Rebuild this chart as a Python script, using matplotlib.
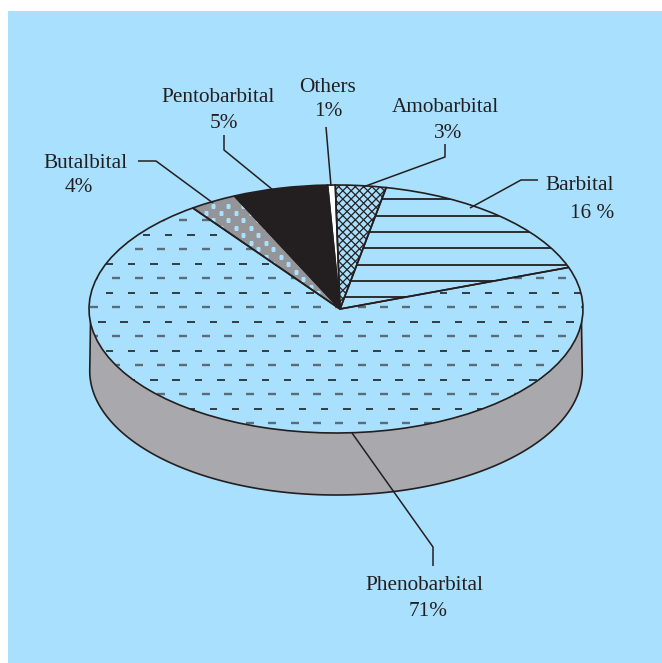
#!/usr/bin/env python3
"""Barbiturate share pie, drawn as a thick tilted disc with custom fill patterns."""

import numpy as np
import matplotlib
matplotlib.use('Agg')
import matplotlib.pyplot as plt
import matplotlib.patches as patches
from matplotlib.collections import LineCollection
from matplotlib.transforms import Affine2D

# Slice shares as measured on the rim of the picture, counterclockwise from Barbital
names = ['Barbital', 'Amobarbital', 'Others', 'Pentobarbital', 'Butalbital', 'Phenobarbital']
drawn_share = [16.3, 3.3, 0.5, 6.2, 3.1, 70.6]
# Percentages as printed next to each slice
printed = ['16 %', '3%', '1%', '5%', '4%', '71%']

BLUE = '#a9e0fd'
INK = '#231f20'
W, H = 662, 663

# Disc geometry in pixels
cx, cy, rx, ry = 336, 309, 247, 124
depth = 62
apex = (340, 309)
start_angle = 19.6

plt.rcParams['font.family'] = ['Liberation Serif', 'DejaVu Serif']

fig = plt.figure(figsize=(W / 100, H / 100), dpi=100, facecolor='white')
ax = fig.add_axes([0, 0, 1, 1])

ax.add_patch(patches.Rectangle((8, 11), W - 8, H - 11, fc=BLUE, ec='none', zorder=0))

# Disc side
t = np.radians(np.linspace(180, 360, 200))
side_x = cx + rx * np.cos(t)
side_y = cy + depth - ry * np.sin(t)
side_xy = np.column_stack([
    np.r_[side_x, cx + rx - 1, cx - rx + 1],
    np.r_[side_y, cy, cy],
])
side_xy[:, 0] = cx + (side_xy[:, 0] - cx) * 0.997
ax.add_patch(patches.Polygon(side_xy, closed=True, fc='#a9a9ad', ec=INK, lw=1.2, zorder=1))

# Top of the disc: pie in unit coordinates, squashed to the ellipse by a transform
face = [BLUE, BLUE, 'white', INK, '#939598', BLUE]
wedges, _ = ax.pie(drawn_share, startangle=start_angle, counterclock=True, colors=face,
                   wedgeprops={'edgecolor': 'none', 'linewidth': 0, 'zorder': 2})
to_px = Affine2D().scale(rx, -ry).translate(cx, cy) + ax.transData
for w in wedges:
    w.set_transform(to_px)
    # apex of the slices sits a little right of the ellipse centre
    path = w.get_path()
    verts = path.vertices.copy()
    verts[-2:] = [(apex[0] - cx) / rx, (cy - apex[1]) / ry]
    path.vertices = verts
by_name = dict(zip(names, wedges))


def add_segments(segs, wedge, color, lw):
    coll = LineCollection(segs, colors=color, linewidths=lw, zorder=3, capstyle='butt')
    ax.add_collection(coll)
    coll.set_clip_path(wedge)


# Phenobarbital: staggered dashes, rows alternate in weight
even, odd = [], []
phases = [15.5, 8, 15.5]
for i, y in enumerate(np.arange(205.5, 430, 14.5)):
    if i % 2:
        for x in np.arange(90 - 22.3, 600, 22.3):
            even.append([(x, y), (x + 8, y)])
    else:
        ph = phases[(i // 2) % 3]
        for x in np.arange(90 - 22.3 + ph, 600, 22.3):
            odd.append([(x, y), (x + 7.5, y)])
add_segments(even, by_name['Phenobarbital'], '#5b6b78', 1.7)
add_segments(odd, by_name['Phenobarbital'], '#111111', 1.1)

# Barbital: horizontal rules
add_segments([[(330, y), (590, y)] for y in np.arange(199.3, 300, 16.3)],
             by_name['Barbital'], INK, 1.3)

# Amobarbital: cross hatch
cross = []
for c in np.arange(-400, 1000, 8.3):
    cross.append([(c, 170), (c + 160, 330)])
    cross.append([(c, 170), (c - 160, 330)])
add_segments(cross, by_name['Amobarbital'], INK, 0.9)

# Butalbital: pale square dots on gray
for j, y in enumerate(np.arange(206, 300, 7.33)):
    xs = np.arange(213 - (7.5 if j % 2 else 0), 340, 15)
    dots, = ax.plot(xs, np.full_like(xs, y), ls='none', marker='s', ms=2.6, mfc=BLUE, mec='none', zorder=3)
    dots.set_clip_path(by_name['Butalbital'])

# Outlines above the patterns
for w in wedges:
    outline = patches.PathPatch(w.get_path(), transform=to_px, fc='none', ec=INK, lw=1.2, zorder=4)
    ax.add_patch(outline)

# Leader lines
leaders = [
    [(138, 161), (156, 161), (213, 203)],
    [(224, 135), (224, 150), (273, 190)],
    [(326, 127), (331, 186)],
    [(445, 144), (445, 157), (363, 187)],
    [(538, 180), (521, 180), (470, 208)],
    [(433, 566), (433, 547), (352, 433)],
]
for pts in leaders:
    xs, ys = zip(*pts)
    ax.plot(xs, ys, color=INK, lw=1.1, zorder=5, solid_capstyle='butt')

# Labels: name position then percent position, same order as names
name_xy = [(580, 185), (445, 107), (328, 87), (218, 97), (85, 163), (424.5, 585)]
pct_xy = [(592, 213), (448, 134), (328, 112), (224, 123), (79, 187), (428, 611)]
for name, pct, a, b in zip(names, printed, name_xy, pct_xy):
    ax.text(a[0], a[1], name, ha='center', va='center', fontsize=15.3, color=INK, zorder=6)
    ax.text(b[0], b[1], pct, ha='center', va='center', fontsize=15.3, color=INK, zorder=6)

ax.set_xlim(0, W)
ax.set_ylim(H, 0)
ax.set_aspect('auto')
ax.axis('off')

fig.savefig('out.png', dpi=100)
